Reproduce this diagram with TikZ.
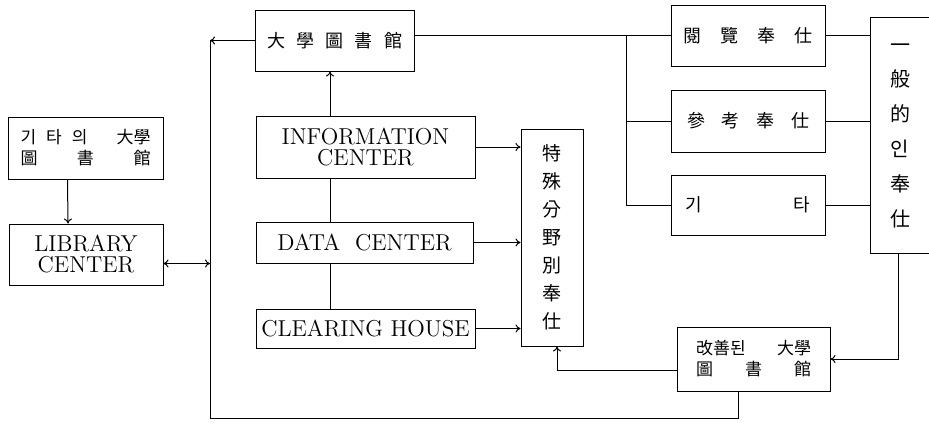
\documentclass[tikz,border=0pt]{standalone}
\usepackage{fontspec}
\newfontfamily\krf{Noto Sans CJK KR}
\usetikzlibrary{arrows.meta}
\begin{document}
\begin{tikzpicture}[x=0.5pt,y=-0.5pt,line width=0.5pt,
  bx/.style={draw,inner sep=0pt,align=center},
  lt/.style={bx,font=\fontsize{11.5}{10.5}\selectfont},
  kr/.style={bx,font=\krf\fontsize{9}{10}\selectfont},
  ks/.style={bx,font=\krf\fontsize{8.5}{10.5}\selectfont},
  kv/.style={bx,font=\krf\fontsize{9.5}{14}\selectfont},
  ar/.style={-{To[length=2.5pt,width=4pt]}},
  dar/.style={{To[length=2.5pt,width=4pt]}-{To[length=2.5pt,width=4pt]}}]
\useasboundingbox (0,0) rectangle (929,425);

\node[kr,minimum width=79.5pt,minimum height=30.5pt] (dh) at (334.5,40.5)
     {\makebox[67.5pt]{大\hfill 學\hfill 圖\hfill 書\hfill 館}};
\node[ks,minimum width=77.5pt,minimum height=31pt] (gt) at (85.5,148)
     {\makebox[65pt]{기\hspace{5pt}타\hspace{5pt}의\hfill 大學}\\\makebox[65pt]{圖\hfill 書\hfill 館}};
\node[lt,minimum width=77pt,minimum height=30.5pt] (lc) at (86,254.5) {LIBRARY\\CENTER};
\node[lt,minimum width=109.5pt,minimum height=31pt] (ic) at (365.5,147) {INFORMATION\\CENTER};
\node[lt,minimum width=108.5pt,minimum height=20.5pt] (dc) at (364.5,242.5) {DATA\ \ CENTER};
\node[lt,minimum width=109.5pt,minimum height=19.5pt] (ch) at (365.5,328.5) {CLEARING HOUSE};
\node[kv,minimum width=31pt,minimum height=108.5pt] (ts) at (552,237.5) {特\\殊\\分\\野\\別\\奉\\仕};
\node[kr,minimum width=77pt,minimum height=30.5pt] (yr) at (748,35.5)
     {\makebox[64.5pt]{閱\hfill 覽\hfill 奉\hfill 仕}};
\node[kr,minimum width=77pt,minimum height=31pt] (cg) at (748,121)
     {\makebox[61pt]{參\hfill 考\hfill 奉\hfill 仕}};
\node[kr,minimum width=77pt,minimum height=30pt] (gi) at (748,205)
     {\makebox[62.5pt]{기\hfill 타}};
\node[kv,draw=none,font=\krf\fontsize{10}{17.4}\selectfont,minimum width=29pt,minimum height=117.5pt] (ib) at (900,135.5)
     {一\\般\\的\\인\\奉\\仕};
\draw (ib.north east) -- (ib.north west) -- (ib.south west) -- (ib.south east);
\node[ks,minimum width=76.5pt,minimum height=32pt] (gs) at (753.5,359)
     {\makebox[57.5pt]{改善된\hfill 大學}\\\makebox[57.5pt]{圖\hfill 書\hfill 館}};

\coordinate (lt) at (210,40.5);
\coordinate (lb) at (210,418);
\coordinate (rb) at (738,418);
\coordinate (mx) at (330,0);
\coordinate (tu) at (557,0);
\coordinate (bx) at (626,0);
\coordinate (ix) at (898,0);
\coordinate (lm) at ([yshift=-4.5pt]lc.east);
\coordinate (gl) at ([yshift=-5.5pt]gs.west);

\draw[ar] (dh.west) -- (lt);
\draw (lt) -- (lb) -- (rb) -- (rb |- gs.south);
\draw[ar] ([xshift=-9pt]gt.south) -- ([xshift=-9pt]lc.north);
\draw[dar] (lm) -- (lm -| lt);
\draw[ar] (ic.north -| mx) -- (dh.south -| mx);
\draw (ic.south -| mx) -- (dc.north -| mx);
\draw (dc.south -| mx) -- (ch.north -| mx);
\draw[ar] (ic.east) -- (ic.east -| ts.west);
\draw[ar] (dc.east) -- (dc.east -| ts.west);
\draw[ar] (ch.east) -- (ch.east -| ts.west);
\draw[ar] (gl) -- (gl -| tu) -- (ts.south -| tu);
\draw[ar] (ib.south -| ix) |- (gs.east);
\draw (dh.east |- yr.west) -- (yr.west);
\draw (bx |- yr.west) -- (bx |- gi.west);
\draw (bx |- cg.west) -- (cg.west);
\draw (bx |- gi.west) -- (gi.west);
\draw (yr.east) -- (yr.east -| ib.west);
\draw (cg.east) -- (cg.east -| ib.west);
\draw (gi.east) -- (gi.east -| ib.west);
\end{tikzpicture}
\end{document}
